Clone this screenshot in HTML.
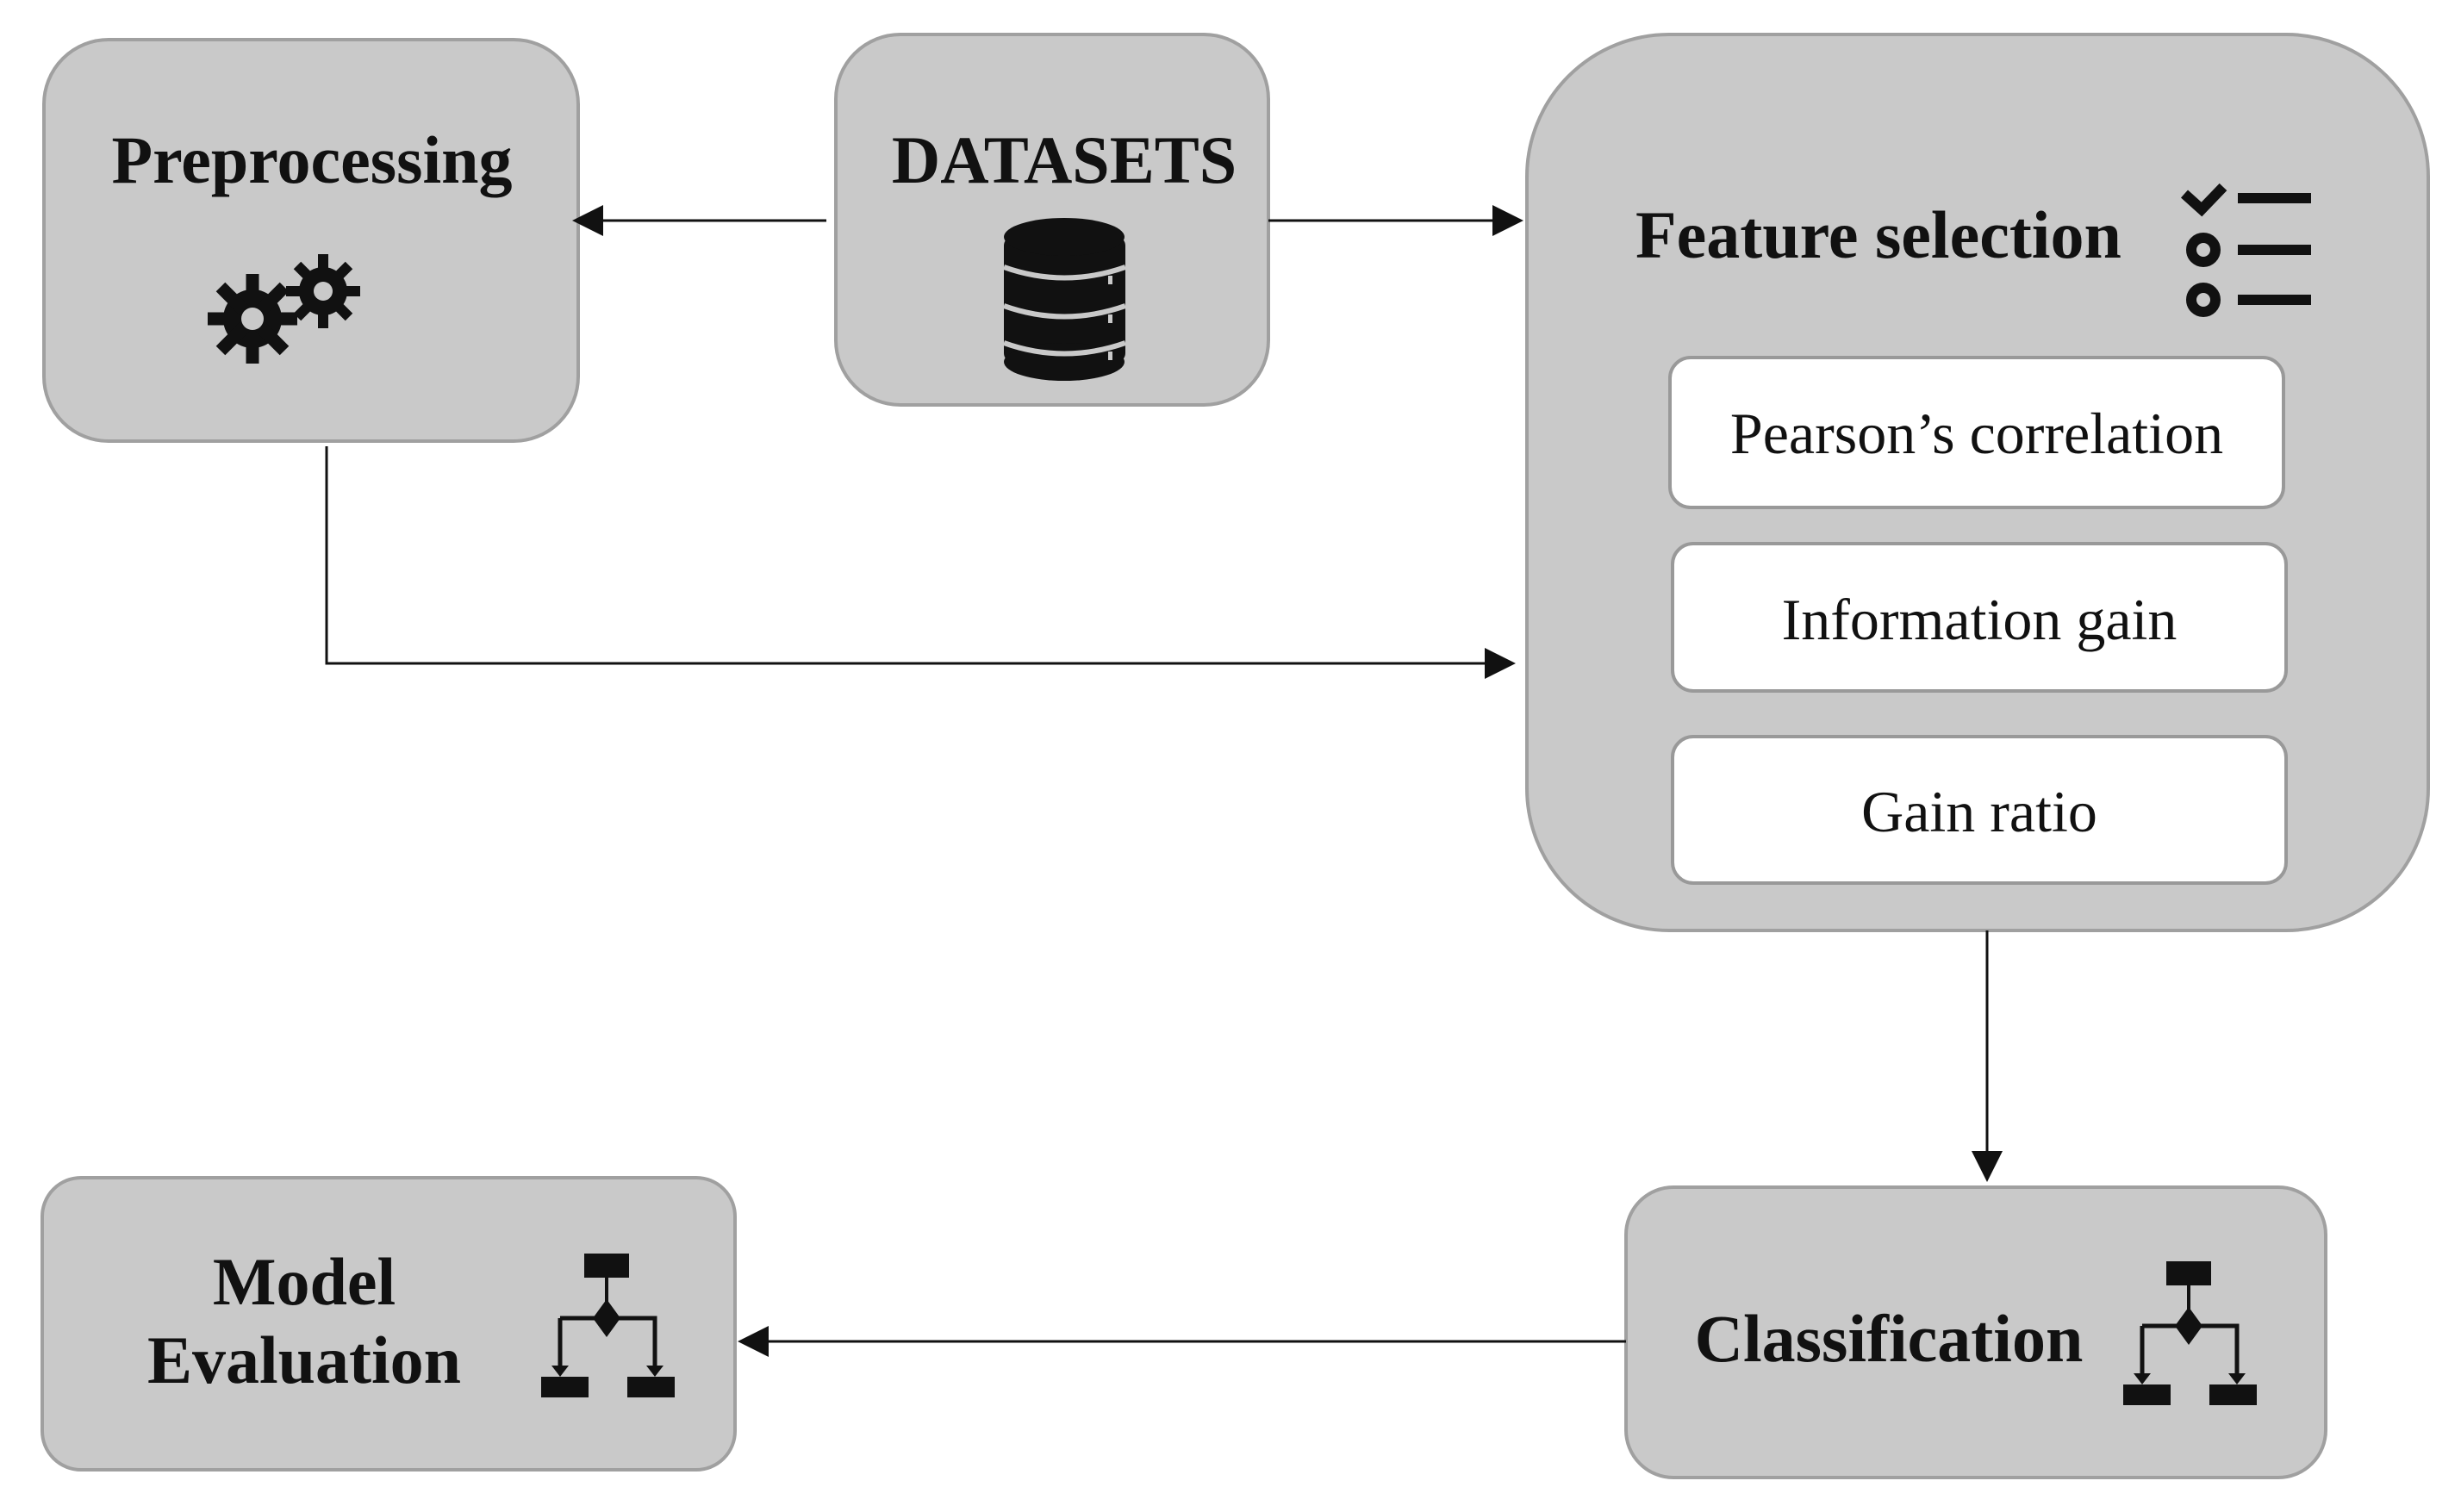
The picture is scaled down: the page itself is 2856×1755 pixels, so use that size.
<!DOCTYPE html>
<html><head><style>html,body{margin:0;padding:0;background:#fff}svg{display:block}</style></head>
<body>
<svg width="2856" height="1755" viewBox="0 0 2856 1755" xmlns="http://www.w3.org/2000/svg" font-family="Liberation Serif, serif">
<g fill="#c9c9c9" stroke="#a0a0a0" stroke-width="4">
<rect x="51" y="46" width="620" height="466" rx="75"/>
<rect x="970" y="40" width="502" height="430" rx="75"/>
<rect x="1772" y="40" width="1046" height="1040" rx="165"/>
<rect x="1887" y="1378" width="812" height="337" rx="55"/>
<rect x="49" y="1367" width="804" height="339" rx="45"/>
</g>
<g fill="#fff" stroke="#999" stroke-width="4">
<rect x="1938" y="415" width="712" height="174" rx="24"/>
<rect x="1941" y="631" width="712" height="171" rx="24"/>
<rect x="1941" y="855" width="712" height="170" rx="24"/>
</g>
<g stroke="#111" stroke-width="3" fill="none">
<line x1="959" y1="256" x2="698" y2="256"/>
<line x1="1472" y1="256" x2="1742" y2="256"/>
<polyline points="379,518 379,770 1732,770"/>
<line x1="2306" y1="1080" x2="2306" y2="1345"/>
<line x1="1887" y1="1557" x2="883" y2="1557"/>
</g>
<g fill="#111">
<polygon points="664,256 700,238 700,274"/>
<polygon points="1768,256 1732,238 1732,274"/>
<polygon points="1759,770 1723,752 1723,788"/>
<polygon points="2306,1372 2288,1336 2324,1336"/>
<polygon points="856,1557 892,1539 892,1575"/>
</g>
<g font-weight="bold" fill="#111" font-size="78">
<text x="362" y="212" text-anchor="middle">Preprocessing</text>
<text x="1235" y="212" text-anchor="middle">DATASETS</text>
<text x="1898" y="299">Feature selection</text>
<text x="2192" y="1580" text-anchor="middle">Classification</text>
<text x="353" y="1514" text-anchor="middle">Model</text>
<text x="353" y="1605" text-anchor="middle">Evaluation</text>
</g>
<g fill="#111" font-size="68" text-anchor="middle">
<text x="2294" y="526">Pearson’s correlation</text>
<text x="2297" y="742">Information gain</text>
<text x="2297" y="965">Gain ratio</text>
</g>
<g fill="#111">
<circle cx="293" cy="370" r="34"/>
<g stroke="#111" stroke-width="15">
<line x1="293" y1="318" x2="293" y2="422"/><line x1="241" y1="370" x2="345" y2="370"/>
<line x1="256" y1="333" x2="330" y2="407"/><line x1="330" y1="333" x2="256" y2="407"/>
</g>
<circle cx="293" cy="370" r="13" fill="#c9c9c9"/>
<circle cx="375" cy="338" r="28"/>
<g stroke="#111" stroke-width="12">
<line x1="375" y1="295" x2="375" y2="381"/><line x1="332" y1="338" x2="418" y2="338"/>
<line x1="345" y1="308" x2="405" y2="368"/><line x1="405" y1="308" x2="345" y2="368"/>
</g>
<circle cx="375" cy="338" r="11" fill="#c9c9c9"/>
</g>
<g fill="#111">
<rect x="1165" y="275" width="141" height="145" rx="10"/>
<ellipse cx="1235" cy="275" rx="70" ry="22"/>
<ellipse cx="1235" cy="420" rx="70" ry="22"/>
</g>
<g stroke="#c9c9c9" stroke-width="6" fill="none">
<path d="M1165 310 Q1235 335 1306 310"/>
<path d="M1165 355 Q1235 380 1306 355"/>
<path d="M1165 398 Q1235 423 1306 398"/>
</g>
<g fill="#c9c9c9"><rect x="1286" y="320" width="5" height="10"/><rect x="1286" y="365" width="5" height="10"/><rect x="1286" y="408" width="5" height="10"/></g>
<g stroke="#111" stroke-width="12" fill="none">
<polyline points="2535,225 2555,243 2580,217"/>
<circle cx="2557" cy="290" r="14"/>
<circle cx="2557" cy="348" r="14"/>
<line x1="2597" y1="230" x2="2682" y2="230"/>
<line x1="2597" y1="290" x2="2682" y2="290"/>
<line x1="2597" y1="348" x2="2682" y2="348"/>
</g>
<g id="fc" fill="#111" stroke="#111">
<rect x="678" y="1455" width="52" height="28" stroke="none"/>
<line x1="704" y1="1483" x2="704" y2="1525" stroke-width="4"/>
<polygon points="704,1508 720,1530 704,1552 688,1530" stroke="none"/>
<polyline points="650,1530 650,1590" fill="none" stroke-width="5"/>
<polyline points="650,1530 760,1530 760,1590" fill="none" stroke-width="5"/>
<polygon points="640,1585 660,1585 650,1598" stroke="none"/>
<polygon points="750,1585 770,1585 760,1598" stroke="none"/>
<rect x="628" y="1598" width="55" height="24" stroke="none"/>
<rect x="728" y="1598" width="55" height="24" stroke="none"/>
</g>
<use href="#fc" x="1836" y="9"/>
</svg>
</body></html>
